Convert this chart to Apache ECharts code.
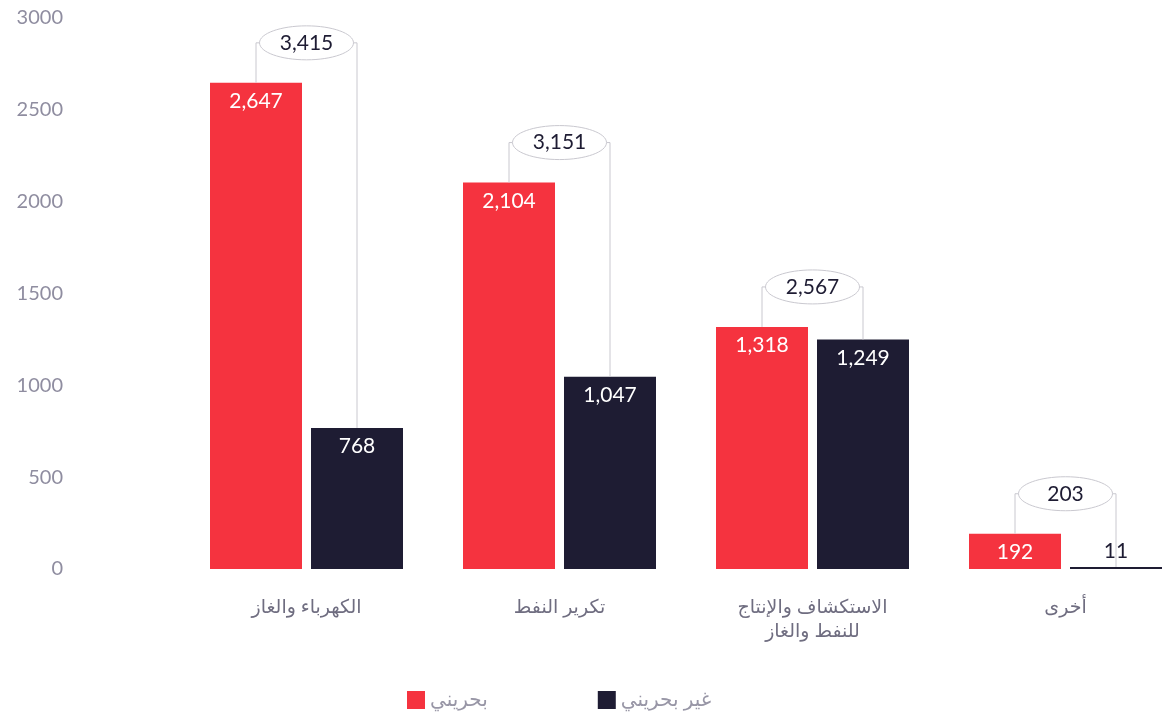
<!DOCTYPE html>
<html>
<head>
<meta charset="utf-8">
<script src="https://cdn.jsdelivr.net/npm/echarts@6/dist/echarts.min.js"></script>
<style>
  html, body { margin: 0; padding: 0; background: #fff; }
  #chart { width: 1162px; height: 715px; }
</style>
</head>
<body>
<div id="chart"></div>
<script>
const categories = ["الكهرباء والغاز", "تكرير النفط", "الاستكشاف والإنتاج\nللنفط والغاز", "أخرى"];
const bahraini = [2647, 2104, 1318, 192];
const nonBahraini = [768, 1047, 1249, 11];
const totals = [3415, 3151, 2567, 203];
const seriesNames = ["بحريني", "غير بحريني"];

const RED = "#f5333f";
const NAVY = "#1e1c33";
const fontFamily = "Lato, 'DejaVu Sans', sans-serif";

function fmt(v) {
    return v.toLocaleString("en-US");
}

let chart = echarts.init(document.getElementById("chart"));

const barWidth = 92;
const gapPx = 9;

let option = {
    animation: false,
    grid: {
        left: 180,
        right: -30,
        top: 18,
        bottom: 146,
        outerBoundsMode: "none"
    },
    legend: {
        left: 402,
        top: 685,
        itemWidth: 18,
        itemHeight: 18,
        itemGap: 110,
        icon: "rect",
        data: seriesNames,
        textStyle: {
            color: "#9896a6",
            fontSize: 20,
            fontFamily: fontFamily
        }
    },
    xAxis: {
        type: "category",
        data: categories,
        axisLine: { show: false },
        axisTick: { show: false },
        axisLabel: {
            color: "#6f6d80",
            fontSize: 19,
            lineHeight: 24,
            margin: 26,
            fontFamily: fontFamily
        }
    },
    yAxis: {
        type: "value",
        min: 0,
        max: 3000,
        interval: 500,
        splitLine: { show: false },
        axisLine: { show: false },
        axisTick: { show: false },
        axisLabel: {
            color: "#8f8da0",
            fontSize: 20,
            margin: 117,
            padding: [0, 0, 4, 0],
            fontFamily: fontFamily,
            formatter: v => String(v)
        }
    },
    series: [
        {
            name: seriesNames[0],
            type: "bar",
            barWidth: barWidth,
            barGap: (gapPx / barWidth * 100) + "%",
            itemStyle: { color: RED },
            label: {
                show: true,
                position: "insideTop",
                distance: 8,
                color: "#fff",
                fontSize: 21,
                fontFamily: fontFamily,
                formatter: p => fmt(p.value)
            },
            data: bahraini
        },
        {
            name: seriesNames[1],
            type: "bar",
            barWidth: barWidth,
            itemStyle: { color: NAVY },
            label: {
                show: true,
                position: "insideTop",
                distance: 8,
                color: "#fff",
                fontSize: 21,
                fontFamily: fontFamily,
                formatter: p => fmt(p.value)
            },
            data: nonBahraini.map(v => v < 100 ? {
                value: v,
                label: { position: "top", distance: 5, color: NAVY }
            } : v)
        },
        {
            name: "total",
            type: "custom",
            silent: true,
            z: 5,
            data: totals.map((t, i) => [i, bahraini[i], nonBahraini[i], t]),
            renderItem: function (params, api) {
                const i = api.value(0);
                const pRed = api.coord([i, api.value(1)]);
                const pNavy = api.coord([i, api.value(2)]);
                const off = (barWidth + gapPx) / 2;
                const cx = pRed[0];
                const xl = cx - off;
                const xr = cx + off;
                const topY = Math.min(pRed[1], pNavy[1]) - 40;
                const rx = 47, ry = 17;
                const lineStyle = { stroke: "#c9c8cf", lineWidth: 1, fill: null };
                return {
                    type: "group",
                    children: [
                        {
                            type: "polyline",
                            shape: { points: [[xl, pRed[1]], [xl, topY], [cx - rx, topY]] },
                            style: lineStyle
                        },
                        {
                            type: "polyline",
                            shape: { points: [[xr, pNavy[1]], [xr, topY], [cx + rx, topY]] },
                            style: lineStyle
                        },
                        {
                            type: "ellipse",
                            shape: { cx: cx, cy: topY, rx: rx, ry: ry },
                            style: { fill: "#fff", stroke: "#c9c8cf", lineWidth: 1 }
                        },
                        {
                            type: "text",
                            x: cx,
                            y: topY,
                            style: {
                                text: fmt(api.value(3)),
                                align: "center",
                                verticalAlign: "middle",
                                fill: NAVY,
                                fontSize: 21,
                                fontFamily: fontFamily
                            }
                        }
                    ]
                };
            }
        }
    ]
};

chart.setOption(option);
</script>
</body>
</html>
